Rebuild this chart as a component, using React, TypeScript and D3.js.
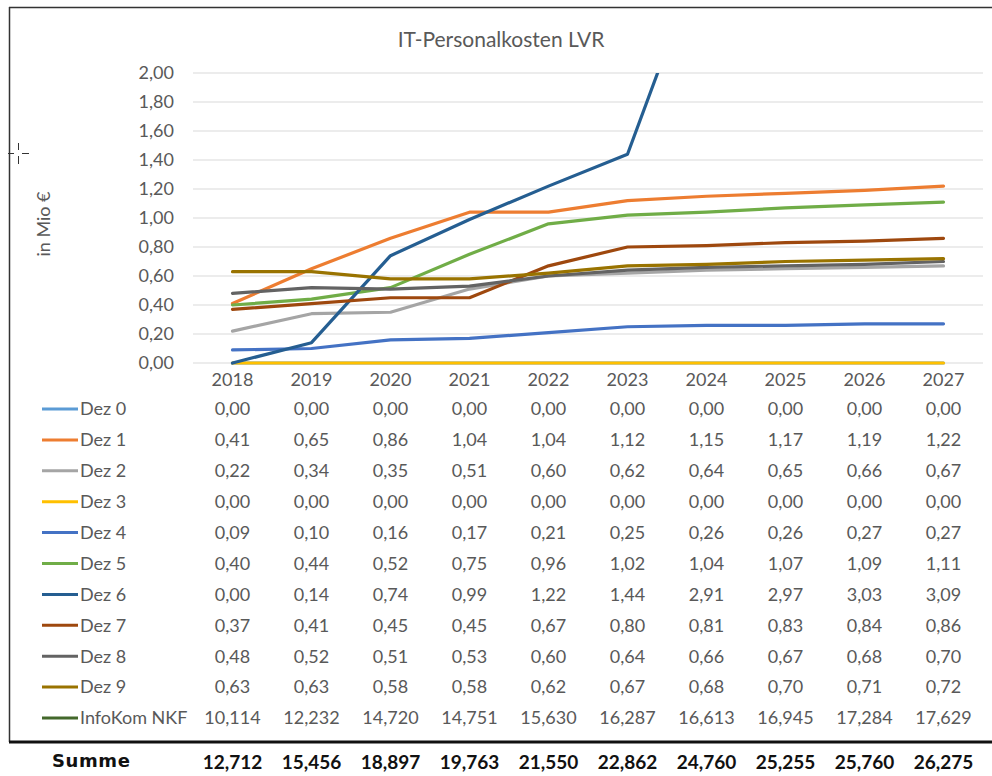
import React from "react";
import * as d3 from "d3";

const years = ["2018", "2019", "2020", "2021", "2022", "2023", "2024", "2025", "2026", "2027"];

const seriesNames = ["Dez 0", "Dez 1", "Dez 2", "Dez 3", "Dez 4", "Dez 5", "Dez 6", "Dez 7", "Dez 8", "Dez 9", "InfoKom NKF"];
const seriesColors = ["#5B9BD5", "#ED7D31", "#A5A5A5", "#FFC000", "#4472C4", "#70AD47", "#255E91", "#9E480E", "#636363", "#997300", "#43682B"];

const dez0 = [0, 0, 0, 0, 0, 0, 0, 0, 0, 0];
const dez1 = [0.41, 0.65, 0.86, 1.04, 1.04, 1.12, 1.15, 1.17, 1.19, 1.22];
const dez2 = [0.22, 0.34, 0.35, 0.51, 0.60, 0.62, 0.64, 0.65, 0.66, 0.67];
const dez3 = [0, 0, 0, 0, 0, 0, 0, 0, 0, 0];
const dez4 = [0.09, 0.10, 0.16, 0.17, 0.21, 0.25, 0.26, 0.26, 0.27, 0.27];
const dez5 = [0.40, 0.44, 0.52, 0.75, 0.96, 1.02, 1.04, 1.07, 1.09, 1.11];
const dez6 = [0.00, 0.14, 0.74, 0.99, 1.22, 1.44, 2.91, 2.97, 3.03, 3.09];
const dez7 = [0.37, 0.41, 0.45, 0.45, 0.67, 0.80, 0.81, 0.83, 0.84, 0.86];
const dez8 = [0.48, 0.52, 0.51, 0.53, 0.60, 0.64, 0.66, 0.67, 0.68, 0.70];
const dez9 = [0.63, 0.63, 0.58, 0.58, 0.62, 0.67, 0.68, 0.70, 0.71, 0.72];
const infoKom = [10.114, 12.232, 14.720, 14.751, 15.630, 16.287, 16.613, 16.945, 17.284, 17.629];
const summe = [12.712, 15.456, 18.897, 19.763, 21.550, 22.862, 24.760, 25.255, 25.760, 26.275];

const allSeries = [dez0, dez1, dez2, dez3, dez4, dez5, dez6, dez7, dez8, dez9, infoKom];
const yTicks = [0, 0.2, 0.4, 0.6, 0.8, 1.0, 1.2, 1.4, 1.6, 1.8, 2.0];

const W = 992, H = 776;
const plot = {left: 193, right: 983, top: 73, bottom: 363};
const grey = "#595959";
const font = "Lato, 'Open Sans', sans-serif";

const fmt2 = (v: number) => v.toFixed(2).replace(".", ",");
const fmt3 = (v: number) => v.toFixed(3).replace(".", ",");

export default function App() {
  const x = d3.scaleBand().domain(years).range([plot.left, plot.right]);
  const y = d3.scaleLinear().domain([0, 2]).range([plot.bottom, plot.top]);
  const cx = (yr: string) => (x(yr) as number) + x.bandwidth() / 2;

  const line = d3.line<number>()
    .x((_, i) => cx(years[i]))
    .y(d => y(d));

  const rowTop = 409, rowStep = 30.9;

  return (
    <svg width={W} height={H} style={{position: "absolute", left: 0, top: 0, background: "#fff"}}>
      <defs>
        <clipPath id="plotClip">
          <rect x={plot.left} y={plot.top} width={plot.right - plot.left} height={plot.bottom - plot.top + 3} />
        </clipPath>
      </defs>
      <rect x={0} y={0} width={W} height={H} fill="#fff" />

      {/* frame */}
      <line x1={9} y1={7.5} x2={W} y2={7.5} stroke="#333" strokeWidth={1.5} />
      <line x1={9.5} y1={7} x2={9.5} y2={742} stroke="#333" strokeWidth={1.5} />
      <line x1={9} y1={742} x2={W} y2={742} stroke="#111" strokeWidth={3} />

      {/* cursor artifact */}
      <g stroke="#333" strokeWidth={1}>
        <line x1={8} y1={153.5} x2={14} y2={153.5} />
        <line x1={22} y1={153.5} x2={29} y2={153.5} />
        <line x1={18.5} y1={143} x2={18.5} y2={150} />
        <line x1={18.5} y1={156} x2={18.5} y2={164} />
      </g>

      <text x={501} y={47} textAnchor="middle" fontFamily={font} fontSize={21} fill={grey}>IT-Personalkosten LVR</text>

      {/* grid + y axis */}
      {yTicks.map(t => (
        <g key={t}>
          <line x1={plot.left} x2={plot.right} y1={y(t)} y2={y(t)} stroke="#D9D9D9" strokeWidth={1.2} />
          <text x={174} y={y(t)} dy="0.35em" textAnchor="end" fontFamily={font} fontSize={18} fill={grey}>{fmt2(t)}</text>
        </g>
      ))}
      <text transform={`translate(50,224) rotate(-90)`} textAnchor="middle" fontFamily={font} fontSize={18} fill={grey}>in Mio €</text>

      {/* x labels */}
      {years.map(yr => (
        <text key={yr} x={cx(yr)} y={380} dy="0.35em" textAnchor="middle" fontFamily={font} fontSize={18} fill={grey}>{yr}</text>
      ))}

      {/* lines */}
      <g clipPath="url(#plotClip)">
        {allSeries.map((s, i) => (
          <path key={i} d={line(s) || ""} fill="none" stroke={seriesColors[i]} strokeWidth={3.2} strokeLinejoin="round" strokeLinecap="round" />
        ))}
      </g>

      {/* data table */}
      {allSeries.map((s, i) => {
        const ry = rowTop + i * rowStep;
        const isBig = i === allSeries.length - 1;
        return (
          <g key={i}>
            <line x1={42} x2={78} y1={ry} y2={ry} stroke={seriesColors[i]} strokeWidth={3} />
            <text x={80} y={ry} dy="0.35em" fontFamily={font} fontSize={18} fill={grey}>{seriesNames[i]}</text>
            {s.map((v, j) => (
              <text key={j} x={cx(years[j])} y={ry} dy="0.35em" textAnchor="middle" fontFamily={font} fontSize={18} fill={grey}>
                {isBig ? fmt3(v) : fmt2(v)}
              </text>
            ))}
          </g>
        );
      })}

      {/* Summe row */}
      <text x={52} y={761} dy="0.35em" fontFamily="'DejaVu Sans', Verdana, sans-serif" fontWeight="bold" fontSize={18} letterSpacing={0.6} fill="#111">Summe</text>
      {summe.map((v, j) => (
        <text key={j} x={cx(years[j])} y={762} dy="0.35em" textAnchor="middle" fontFamily={font} fontWeight="bold" fontSize={19} fill="#111">{fmt3(v)}</text>
      ))}
    </svg>
  );
}
